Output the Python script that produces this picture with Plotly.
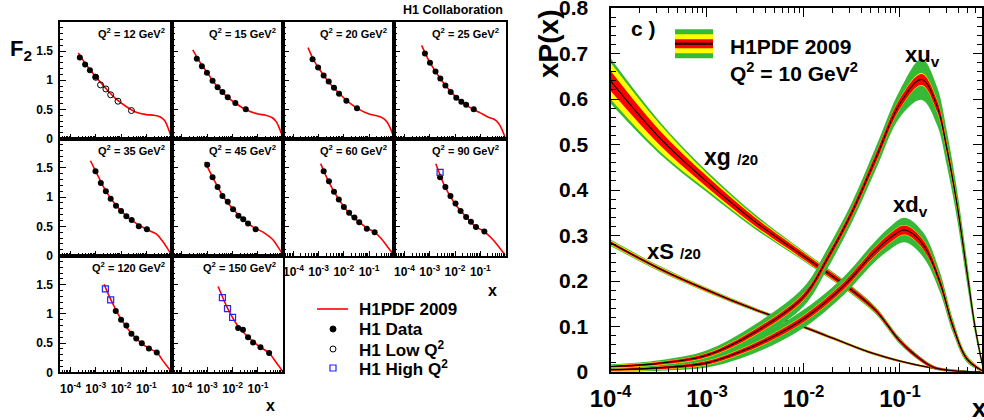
import plotly.graph_objects as go

W, H = 984, 420
FONT = "Liberation Sans, Arial, Helvetica, sans-serif"

def PX(x):
    return x / W

def PY(y):
    return 1 - y / H

# ---------------- Left figure: F2 vs x in Q2 bins ----------------
Q2_VALUES = [12, 15, 20, 25, 35, 45, 60, 90, 120, 150]

Q12_CURVE_LX = [-3.69, -3.4, -3.0, -2.6, -2.2, -1.8, -1.4, -1.0, -0.7, -0.45, -0.28, -0.15, 0.0]
Q12_CURVE_F2 = [1.47, 1.28, 1.06, 0.86, 0.68, 0.55, 0.45, 0.41, 0.40, 0.37, 0.31, 0.19, 0.0]
Q12_DATA_LX = [-3.63, -3.42, -3.23, -3.01]
Q12_DATA_F2 = [1.39, 1.27, 1.17, 1.06]
Q12_LOW_LX = [-3.0, -2.81, -2.60, -2.41, -2.12, -1.59]
Q12_LOW_F2 = [1.05, 0.92, 0.85, 0.75, 0.64, 0.48]

Q15_CURVE_LX = [-3.57, -3.3, -3.0, -2.6, -2.2, -1.8, -1.4, -1.0, -0.7, -0.45, -0.28, -0.15, 0.0]
Q15_CURVE_F2 = [1.52, 1.32, 1.13, 0.89, 0.71, 0.58, 0.48, 0.42, 0.40, 0.36, 0.29, 0.17, 0.0]
Q15_DATA_LX = [-3.41, -3.21, -3.01, -2.79, -2.59, -2.40, -2.19, -1.89, -1.48]
Q15_DATA_F2 = [1.37, 1.24, 1.13, 0.99, 0.88, 0.80, 0.71, 0.61, 0.50]

Q20_CURVE_LX = [-3.42, -3.2, -3.0, -2.6, -2.2, -1.8, -1.4, -1.0, -0.7, -0.45, -0.28, -0.15, 0.0]
Q20_CURVE_F2 = [1.56, 1.35, 1.21, 0.97, 0.78, 0.62, 0.50, 0.42, 0.39, 0.35, 0.28, 0.17, 0.0]
Q20_DATA_LX = [-3.24, -3.02, -2.80, -2.60, -2.39, -2.19, -1.90, -1.48]
Q20_DATA_F2 = [1.36, 1.22, 1.08, 0.98, 0.87, 0.77, 0.65, 0.52]

Q25_CURVE_LX = [-3.32, -3.0, -2.6, -2.2, -1.8, -1.4, -1.0, -0.7, -0.45, -0.28, -0.15, 0.0]
Q25_CURVE_F2 = [1.60, 1.31, 1.04, 0.82, 0.65, 0.53, 0.44, 0.37, 0.33, 0.26, 0.16, 0.0]
Q25_DATA_LX = [-3.19, -2.99, -2.77, -2.58, -2.38, -2.17, -1.95, -1.75, -1.56, -1.26]
Q25_DATA_F2 = [1.46, 1.30, 1.15, 1.03, 0.91, 0.80, 0.70, 0.63, 0.58, 0.50]

Q35_CURVE_LX = [-3.21, -3.0, -2.6, -2.2, -1.8, -1.4, -1.0, -0.61, -0.35, -0.15, 0.0]
Q35_CURVE_F2 = [1.62, 1.44, 1.10, 0.86, 0.68, 0.55, 0.45, 0.37, 0.24, 0.11, 0.0]
Q35_DATA_LX = [-3.01, -2.80, -2.60, -2.41, -2.20, -2.00, -1.79, -1.58, -1.30, -0.98]
Q35_DATA_F2 = [1.44, 1.24, 1.10, 0.97, 0.85, 0.76, 0.67, 0.61, 0.50, 0.45]

Q45_CURVE_LX = [-3.09, -2.8, -2.4, -2.0, -1.6, -1.2, -0.8, -0.41, -0.2, 0.0]
Q45_CURVE_F2 = [1.60, 1.35, 1.03, 0.80, 0.63, 0.49, 0.40, 0.27, 0.14, 0.0]
Q45_DATA_LX = [-3.0, -2.79, -2.59, -2.40, -2.19, -1.98, -1.77, -1.58, -1.39, -1.09]
Q45_DATA_F2 = [1.55, 1.34, 1.17, 1.02, 0.92, 0.79, 0.68, 0.62, 0.55, 0.45]

Q60_CURVE_LX = [-2.92, -2.6, -2.2, -1.8, -1.4, -1.0, -0.78, -0.48, -0.25, 0.0]
Q60_CURVE_F2 = [1.57, 1.26, 0.96, 0.73, 0.57, 0.45, 0.40, 0.27, 0.14, 0.0]
Q60_DATA_LX = [-2.80, -2.59, -2.39, -2.20, -2.00, -1.79, -1.58, -1.39, -1.09, -0.78]
Q60_DATA_F2 = [1.44, 1.27, 1.09, 0.96, 0.83, 0.73, 0.65, 0.57, 0.46, 0.40]

Q90_CURVE_LX = [-2.76, -2.4, -2.0, -1.6, -1.2, -0.84, -0.5, -0.25, 0.0]
Q90_CURVE_F2 = [1.57, 1.18, 0.88, 0.68, 0.50, 0.41, 0.27, 0.14, 0.0]
Q90_DATA_LX = [-2.59, -2.38, -2.18, -1.98, -1.78, -1.56, -1.37, -1.17, -0.84]
Q90_DATA_F2 = [1.34, 1.17, 1.02, 0.89, 0.76, 0.66, 0.58, 0.49, 0.41]
Q90_HIGH_LX = [-2.59]
Q90_HIGH_F2 = [1.42]

Q120_CURVE_LX = [-2.67, -2.4, -2.0, -1.6, -1.2, -0.9, -0.59, -0.35, 0.0]
Q120_CURVE_F2 = [1.51, 1.24, 0.91, 0.67, 0.50, 0.41, 0.34, 0.20, 0.0]
Q120_DATA_LX = [-2.21, -2.00, -1.79, -1.59, -1.40, -1.18, -0.90, -0.59]
Q120_DATA_F2 = [1.05, 0.90, 0.80, 0.66, 0.58, 0.50, 0.41, 0.34]
Q120_HIGH_LX = [-2.62, -2.41]
Q120_HIGH_F2 = [1.43, 1.24]

Q150_CURVE_LX = [-2.57, -2.2, -1.8, -1.4, -1.0, -0.56, -0.3, 0.0]
Q150_CURVE_F2 = [1.47, 1.10, 0.80, 0.61, 0.46, 0.33, 0.18, 0.0]
Q150_DATA_LX = [-1.78, -1.59, -1.39, -1.19, -0.90, -0.56]
Q150_DATA_F2 = [0.76, 0.73, 0.60, 0.51, 0.43, 0.33]
Q150_HIGH_LX = [-2.40, -2.20, -2.00]
Q150_HIGH_F2 = [1.28, 1.09, 0.94]

F2_TICK_LABELS = ["10<sup>-4</sup>", "10<sup>-3</sup>", "10<sup>-2</sup>", "10<sup>-1</sup>"]
F2_Y_TICKS = [0, 0.5, 1, 1.5]
F2_Y_LABELS = ["0", "0.5", "1", "1.5"]
LEGEND_LABELS = ["H1PDF 2009", "H1 Data", "H1 Low Q<sup>2</sup>", "H1 High Q<sup>2</sup>"]

# ---------------- Right figure: PDFs at Q2 = 10 GeV2 ----------------
XG_LX = [-4.0, -3.5, -3.0, -2.5, -2.0, -1.75, -1.5, -1.25, -1.0, -0.8, -0.65, -0.5, -0.3, -0.15]
XG_C = [0.640, 0.517, 0.418, 0.330, 0.255, 0.218, 0.180, 0.135, 0.068, 0.030, 0.010, 0.004, 0.001, 0.0]
XG_GREEN = [0.050, 0.036, 0.023, 0.016, 0.011, 0.010, 0.009, 0.008, 0.007, 0.005, 0.004, 0.003, 0.002, 0.001]
XG_YELLOW = [0.040, 0.030, 0.018, 0.012, 0.009, 0.008, 0.007, 0.006, 0.005, 0.004, 0.003, 0.002, 0.001, 0.001]
XG_RED = [0.022, 0.016, 0.012, 0.009, 0.007, 0.0065, 0.006, 0.005, 0.0045, 0.004, 0.003, 0.002, 0.001, 0.001]

XS_LX = [-4.0, -3.5, -3.0, -2.5, -2.0, -1.5, -1.28, -1.0, -0.72, -0.5, -0.3, -0.15]
XS_C = [0.284, 0.228, 0.180, 0.137, 0.099, 0.058, 0.041, 0.024, 0.011, 0.004, 0.001, 0.0]
XS_GREEN = [0.007, 0.006, 0.005, 0.004, 0.0035, 0.003, 0.003, 0.0025, 0.002, 0.0015, 0.001, 0.001]
XS_YELLOW = [0.005, 0.0045, 0.004, 0.003, 0.0028, 0.0025, 0.0025, 0.002, 0.0015, 0.001, 0.001, 0.001]
XS_RED = [0.0035, 0.003, 0.003, 0.0025, 0.0025, 0.002, 0.002, 0.002, 0.0015, 0.001, 0.001, 0.001]

XUV_LX = [-4.0, -3.5, -3.0, -2.5, -2.0, -1.75, -1.5, -1.25, -1.0, -0.775, -0.616, -0.513, -0.41, -0.306, -0.223, -0.15]
XUV_C = [0.012, 0.019, 0.037, 0.088, 0.165, 0.250, 0.350, 0.470, 0.590, 0.643, 0.585, 0.490, 0.370, 0.220, 0.100, 0.020]
XUV_GREEN = [0.005, 0.007, 0.011, 0.017, 0.021, 0.022, 0.022, 0.025, 0.030, 0.045, 0.042, 0.038, 0.032, 0.025, 0.015, 0.008]
XUV_YELLOW = [0.003, 0.004, 0.005, 0.007, 0.008, 0.009, 0.010, 0.011, 0.012, 0.014, 0.014, 0.013, 0.012, 0.010, 0.008, 0.005]
XUV_RED = [0.002, 0.003, 0.004, 0.006, 0.007, 0.008, 0.009, 0.010, 0.011, 0.012, 0.012, 0.011, 0.010, 0.008, 0.006, 0.004]

XDV_LX = [-4.0, -3.5, -3.0, -2.66, -2.32, -1.97, -1.58, -1.28, -1.1, -0.95, -0.76, -0.59, -0.45, -0.31, -0.15]
XDV_C = [0.005, 0.009, 0.020, 0.044, 0.077, 0.121, 0.190, 0.260, 0.295, 0.312, 0.280, 0.200, 0.100, 0.030, 0.003]
XDV_GREEN = [0.004, 0.006, 0.010, 0.015, 0.018, 0.020, 0.020, 0.022, 0.025, 0.027, 0.027, 0.022, 0.015, 0.008, 0.003]
XDV_YELLOW = [0.003, 0.004, 0.005, 0.006, 0.007, 0.008, 0.009, 0.010, 0.011, 0.011, 0.011, 0.010, 0.008, 0.005, 0.003]
XDV_RED = [0.002, 0.003, 0.004, 0.005, 0.006, 0.007, 0.008, 0.009, 0.010, 0.010, 0.010, 0.009, 0.007, 0.004, 0.002]

PDF_X_TICKS = [1e-4, 1e-3, 1e-2, 1e-1]
PDF_X_LABELS = ["10<sup>-4</sup>", "10<sup>-3</sup>", "10<sup>-2</sup>", "10<sup>-1</sup>"]
PDF_Y_TICKS = [0, 0.1, 0.2, 0.3, 0.4, 0.5, 0.6, 0.7, 0.8]
PDF_Y_LABELS = ["0", "0.1", "0.2", "0.3", "0.4", "0.5", "0.6", "0.7", "0.8"]

GREEN = "#36b936"
YELLOW = "#ffff00"
RED = "#ff0000"
BLUE = "#2222ff"

# ---------------- layout geometry ----------------
COL_EDGES = [60.3, 171.7, 283.3, 394.3, 505.6]
ROW_EDGES = [22.0, 138.5, 255.6, 372.3]
PANELS = [
    (12, 0, 0, Q12_CURVE_LX, Q12_CURVE_F2, Q12_DATA_LX, Q12_DATA_F2, Q12_LOW_LX, Q12_LOW_F2, None, None),
    (15, 0, 1, Q15_CURVE_LX, Q15_CURVE_F2, Q15_DATA_LX, Q15_DATA_F2, None, None, None, None),
    (20, 0, 2, Q20_CURVE_LX, Q20_CURVE_F2, Q20_DATA_LX, Q20_DATA_F2, None, None, None, None),
    (25, 0, 3, Q25_CURVE_LX, Q25_CURVE_F2, Q25_DATA_LX, Q25_DATA_F2, None, None, None, None),
    (35, 1, 0, Q35_CURVE_LX, Q35_CURVE_F2, Q35_DATA_LX, Q35_DATA_F2, None, None, None, None),
    (45, 1, 1, Q45_CURVE_LX, Q45_CURVE_F2, Q45_DATA_LX, Q45_DATA_F2, None, None, None, None),
    (60, 1, 2, Q60_CURVE_LX, Q60_CURVE_F2, Q60_DATA_LX, Q60_DATA_F2, None, None, None, None),
    (90, 1, 3, Q90_CURVE_LX, Q90_CURVE_F2, Q90_DATA_LX, Q90_DATA_F2, None, None, Q90_HIGH_LX, Q90_HIGH_F2),
    (120, 2, 0, Q120_CURVE_LX, Q120_CURVE_F2, Q120_DATA_LX, Q120_DATA_F2, None, None, Q120_HIGH_LX, Q120_HIGH_F2),
    (150, 2, 1, Q150_CURVE_LX, Q150_CURVE_F2, Q150_DATA_LX, Q150_DATA_F2, None, None, Q150_HIGH_LX, Q150_HIGH_F2),
]
LABELLED_X = {7, 8, 9, 10}

fig = go.Figure()
layout = dict(
    width=W, height=H, margin=dict(l=0, r=0, t=0, b=0, pad=0, autoexpand=False),
    paper_bgcolor="white", plot_bgcolor="white",
    font=dict(family=FONT, color="black"),
    showlegend=False,
)

def to_x(lx):
    return [10 ** v for v in lx]

minor_log_small = [m * 10 ** e for e in range(-5, 0) for m in range(2, 10)]
annotations = []

for i, (q2, row, col, clx, cf2, dlx, df2, llx, lf2, hlx, hf2) in enumerate(PANELS, start=1):
    xa, ya = f"x{i}", f"y{i}"
    labelled = i in LABELLED_X
    layout[f"xaxis{i}"] = dict(
        domain=[PX(COL_EDGES[col]), PX(COL_EDGES[col + 1])], anchor=ya, automargin=False,
        type="log", range=[-4.4, 0], showgrid=False, zeroline=False,
        showline=True, linecolor="black", linewidth=2, mirror=True,
        ticks="inside", ticklen=5, tickwidth=1, tickcolor="black",
        tickmode="array", tickvals=[1e-4, 1e-3, 1e-2, 1e-1], ticktext=F2_TICK_LABELS,
        showticklabels=labelled, ticklabelstandoff=4, ticklabeloverflow="allow",
        tickfont=dict(family=FONT, size=12, weight="bold", color="black"),
        minor=dict(ticks="inside", ticklen=2.5, tickcolor="black", tickwidth=1,
                   tickmode="array", tickvals=minor_log_small),
    )
    layout[f"yaxis{i}"] = dict(
        domain=[PY(ROW_EDGES[row + 1]), PY(ROW_EDGES[row])], anchor=xa, automargin=False,
        range=[0, 2], showgrid=False, zeroline=False,
        showline=True, linecolor="black", linewidth=2, mirror=True,
        ticks="inside", ticklen=6, tickwidth=1, tickcolor="black",
        tickmode="array", tickvals=F2_Y_TICKS, ticktext=F2_Y_LABELS,
        showticklabels=(col == 0), ticklabelstandoff=3, ticklabeloverflow="allow",
        tickfont=dict(family=FONT, size=12, weight="bold", color="black"),
        minor=dict(ticks="inside", ticklen=3, tickcolor="black", tickwidth=1, dtick=0.1),
    )
    fig.add_trace(go.Scatter(
        x=to_x(clx), y=cf2, mode="lines", xaxis=xa, yaxis=ya,
        line=dict(color=RED, width=1.6, shape="spline", smoothing=0.8),
        name=LEGEND_LABELS[0], hoverinfo="skip"))
    fig.add_trace(go.Scatter(
        x=to_x(dlx), y=df2, mode="markers", xaxis=xa, yaxis=ya,
        marker=dict(symbol="circle", size=6, color="black"), name=LEGEND_LABELS[1]))
    if llx is not None:
        fig.add_trace(go.Scatter(
            x=to_x(llx), y=lf2, mode="markers", xaxis=xa, yaxis=ya,
            marker=dict(symbol="circle-open", size=6, color="black", line=dict(width=1)),
            name=LEGEND_LABELS[2]))
    if hlx is not None:
        fig.add_trace(go.Scatter(
            x=to_x(hlx), y=hf2, mode="markers", xaxis=xa, yaxis=ya,
            marker=dict(symbol="square-open", size=6, color=BLUE, line=dict(width=1.2)),
            name=LEGEND_LABELS[3]))
    annotations.append(dict(
        x=PX(COL_EDGES[col + 1] - 5), y=PY(ROW_EDGES[row] + 11), xref="paper", yref="paper",
        xanchor="right", yanchor="middle", showarrow=False,
        text=f"<b>Q<sup>2</sup> = {q2} GeV<sup>2</sup></b>",
        font=dict(family=FONT, size=11, color="black")))

# ---------------- right panel ----------------
RX, RY = "x11", "y11"
layout["xaxis11"] = dict(
    domain=[PX(610.5), PX(982)], anchor=RY, type="log", range=[-4, -0.15], automargin=False,
    showgrid=False, zeroline=False, showline=True, linecolor="black", linewidth=2,
    mirror="ticks", ticks="inside", ticklen=9, tickwidth=1, tickcolor="black",
    tickmode="array", tickvals=PDF_X_TICKS, ticktext=PDF_X_LABELS, ticklabelstandoff=4,
    ticklabeloverflow="allow",
    tickfont=dict(family=FONT, size=24, weight="bold", color="black"),
    minor=dict(ticks="inside", ticklen=5, tickcolor="black", tickwidth=1,
               tickmode="array", tickvals=minor_log_small),
)
layout["yaxis11"] = dict(
    domain=[PY(372), PY(8)], anchor=RX, range=[0, 0.8], automargin=False,
    showgrid=False, zeroline=False, showline=True, linecolor="black", linewidth=2,
    mirror="ticks", ticks="inside", ticklen=9, tickwidth=1, tickcolor="black",
    tickmode="array", tickvals=PDF_Y_TICKS, ticktext=PDF_Y_LABELS,
    ticklabelstandoff=16, ticklabeloverflow="allow",
    tickfont=dict(family=FONT, size=21, weight="bold", color="black"),
    minor=dict(ticks="inside", ticklen=5, tickcolor="black", tickwidth=1, dtick=0.02),
)

def add_band(lx, c, w, color):
    xs = to_x(lx)
    lo = [a - b for a, b in zip(c, w)]
    hi = [a + b for a, b in zip(c, w)]
    fig.add_trace(go.Scatter(x=xs, y=lo, mode="lines", xaxis=RX, yaxis=RY,
                             line=dict(width=0, shape="spline", color=color),
                             showlegend=False, hoverinfo="skip"))
    fig.add_trace(go.Scatter(x=xs, y=hi, mode="lines", xaxis=RX, yaxis=RY,
                             line=dict(width=0, shape="spline", color=color),
                             fill="tonexty", fillcolor=color,
                             showlegend=False, hoverinfo="skip"))

def add_pdf(lx, c, g, y, r):
    add_band(lx, c, g, GREEN)
    add_band(lx, c, y, YELLOW)
    add_band(lx, c, r, RED)
    fig.add_trace(go.Scatter(x=to_x(lx), y=c, mode="lines", xaxis=RX, yaxis=RY,
                             line=dict(width=1.1, shape="spline", color="black"),
                             showlegend=False, hoverinfo="skip"))

add_pdf(XS_LX, XS_C, XS_GREEN, XS_YELLOW, XS_RED)
add_pdf(XG_LX, XG_C, XG_GREEN, XG_YELLOW, XG_RED)
add_pdf(XDV_LX, XDV_C, XDV_GREEN, XDV_YELLOW, XDV_RED)
add_pdf(XUV_LX, XUV_C, XUV_GREEN, XUV_YELLOW, XUV_RED)

def ann(x, y, text, size, xanchor="center", yanchor="middle", angle=0):
    annotations.append(dict(x=PX(x), y=PY(y), xref="paper", yref="paper", text=text,
                            showarrow=False, xanchor=xanchor, yanchor=yanchor, textangle=angle,
                            font=dict(family=FONT, size=size, color="black")))

ann(505, 10, "<b>H1 Collaboration</b>", 12.5, xanchor="right")
ann(21, 50, "<b>F<sub>2</sub></b>", 22)
ann(270, 405, "<b>x</b>", 16)
ann(492, 290, "<b>x</b>", 16)
ann(549, 44, "<b>xP(x)</b>", 28, angle=-90)
ann(643, 29, "<b>c )</b>", 21)
ann(728, 46, "<b>H1PDF 2009</b>", 21, xanchor="left")
ann(728, 72, "<b>Q<sup>2</sup> = 10 GeV<sup>2</sup></b>", 21, xanchor="left")
ann(922, 56, "<b>xu<sub>v</sub></b>", 22)
ann(910, 206, "<b>xd<sub>v</sub></b>", 22)
ann(731, 157, "<b>xg <span style='font-size:15px'>/20</span></b>", 23)
ann(674, 251, "<b>xS <span style='font-size:15px'>/20</span></b>", 22)
ann(970, 408, "<b>x</b>", 26, xanchor="left")

# legend of the left figure
LEG_Y = [309, 329, 349, 368]
for label, ly in zip(LEGEND_LABELS, LEG_Y):
    ann(357, ly, f"<b>{label}</b>", 17, xanchor="left")

layout["annotations"] = annotations

shapes = []
def rect(x0, y0, x1, y1, color, line=None):
    shapes.append(dict(type="rect", xref="paper", yref="paper",
                       x0=PX(x0), x1=PX(x1), y0=PY(y1), y1=PY(y0),
                       fillcolor=color, line=line or dict(width=0)))

# band swatch of the right figure
rect(675, 29.3, 713, 58.3, GREEN)
rect(675, 34.3, 713, 53.3, YELLOW)
rect(675, 39.3, 713, 48.3, RED)
shapes.append(dict(type="line", xref="paper", yref="paper", x0=PX(675), x1=PX(713),
                   y0=PY(43.8), y1=PY(43.8), line=dict(color="black", width=2)))

# legend symbols of the left figure
shapes.append(dict(type="line", xref="paper", yref="paper", x0=PX(317), x1=PX(348),
                   y0=PY(LEG_Y[0]), y1=PY(LEG_Y[0]), line=dict(color=RED, width=1.6)))
shapes.append(dict(type="circle", xref="paper", yref="paper",
                   x0=PX(330), x1=PX(336), y0=PY(LEG_Y[1] + 3), y1=PY(LEG_Y[1] - 3),
                   fillcolor="black", line=dict(color="black", width=1)))
shapes.append(dict(type="circle", xref="paper", yref="paper",
                   x0=PX(330), x1=PX(336), y0=PY(LEG_Y[2] + 3), y1=PY(LEG_Y[2] - 3),
                   fillcolor="white", line=dict(color="black", width=1)))
rect(330, LEG_Y[3] - 3, 336, LEG_Y[3] + 3, "white", line=dict(color=BLUE, width=1.2))
layout["shapes"] = shapes

fig.update_layout(**layout)
fig.write_html("out.html", config={"displayModeBar": False},
               post_script="document.body.style.margin='0px';")
